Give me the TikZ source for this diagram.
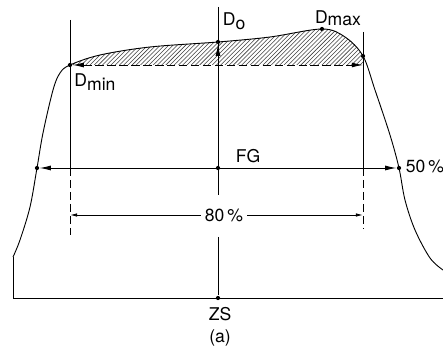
\documentclass[tikz,border=0pt]{standalone}
\usepackage{fontspec}
\setmainfont{TeX Gyre Heros}
\usetikzlibrary{arrows.meta,patterns}
\newcommand{\bas}[2][0.45ex]{\raisebox{-#1}{#2}}

\begin{document}
\begin{tikzpicture}[x=0.025cm,y=0.025cm,line width=0.65pt,
    pointe/.style={-{Latex[length=8pt,width=3.5pt]}},
    cote/.style={{Latex[length=8pt,width=3.5pt]}-{Latex[length=8pt,width=3.5pt]}},
    petitecote/.style={{Latex[length=5pt,width=2.5pt]}-{Latex[length=5pt,width=2.5pt]}},
    tirets/.style={dash pattern=on 6pt off 2.5pt},
    pt/.style={circle,fill,inner sep=0pt,minimum size=3pt},
    etiq/.style={font=\fontsize{12.5}{14}\selectfont,inner sep=1pt}]
    \useasboundingbox (0,0) rectangle (443,349);

    % Points remarquables
    \coordinate (depart) at (13,92);
    \coordinate (origine) at (13,51);
    \coordinate (fin) at (443,51);
    \coordinate (d80) at (363,284);
    \node[pt] (dmin) at (70,284) {};
    \node[pt] (d0) at (218,307) {};
    \node[pt] (dmax) at (322,320) {};
    \node[pt] (r80) at (363,293) {};
    \node[pt] (g50) at (37,181) {};
    \node[pt] (d50) at (399,181) {};
    \node[pt] (centre) at (218,181) {};
    \node[pt] (zs) at (218,51) {};

    % Zone hachuree
    \begin{scope}
        \clip (70,284) rectangle (363,340);
        \fill[pattern=north east lines,pattern color=black!75]
            plot[smooth,tension=0.55] coordinates {(13,92) (20,109) (30,142) (37,181) (43,216) (53,259) (60,276) (70,284) (100,294) (150,302) (218,307) (270,312) (322,320) (345,312) (363,293) (375,259) (390,214) (399,181) (405,149) (415,119) (430,91) (443,79)} -- cycle;
    \end{scope}

    % Profil
    \draw plot[smooth,tension=0.55] coordinates {(13,92) (20,109) (30,142) (37,181) (43,216) (53,259) (60,276) (70,284) (100,294) (150,302) (218,307) (270,312) (322,320) (345,312) (363,293) (375,259) (390,214) (399,181) (405,149) (415,119) (430,91) (443,79)};
    \draw (depart) -- (origine) -- (fin);

    % Verticales
    \coordinate (hautg) at (70,329);
    \coordinate (basg) at (70,114);
    \coordinate (hautd) at (363,317);
    \coordinate (basd) at (363,121);
    \draw (hautg) -- (70,181);
    \draw[tirets] (70,181) -- (basg);
    \draw (hautd) -- (363,181);
    \draw[tirets] (363,181) -- (basd);
    \coordinate (haut) at (218,342);
    \coordinate (coupe) at (218,154);
    \coordinate (reprise) at (218,112);
    \draw (haut) -- (coupe);
    \draw (reprise) -- (zs);

    % Ecart Dmin - Dmax
    \draw[cote,tirets] (dmin) -- (d80);
    \draw[pointe] (218,284) -- (d0);

    % Largeur a 50 %
    \draw[cote] (g50) -- (d50);
    \node[etiq] (fg) at (248,193) {FG};
    \node[etiq,anchor=west] (l50) at (404,183) {50\,\%};

    % Largeur a 80 %
    \coordinate (g80b) at (70,134);
    \coordinate (d80b) at (363,134);
    \draw[petitecote] (g80b) -- (d80b);
    \node[etiq,fill=white,inner xsep=3pt] (l80) at (224,134) {80\,\%};

    % Etiquettes
    \node[etiq,anchor=west] (ld0) at (221,328) {D\bas{o}};
    \node[etiq] (ldmax) at (338,331) {D\bas[0.2ex]{max}};
    \node[etiq] (ldmin) at (95,267) {D\bas{min}};
    \node[etiq] (lzs) at (220,35) {ZS};
    \node[etiq] (la) at (220,11) {(a)};
\end{tikzpicture}
\end{document}
